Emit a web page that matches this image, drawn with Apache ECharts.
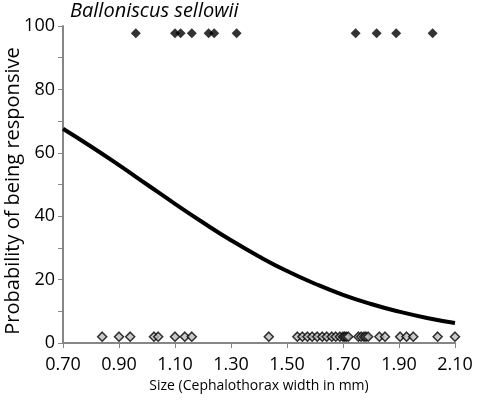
<!DOCTYPE html>
<html>
<head>
<meta charset="utf-8">
<script src="https://cdn.jsdelivr.net/npm/echarts@6/dist/echarts.min.js"></script>
<style>html,body{margin:0;padding:0;background:#fff}#c{width:484px;height:400px}</style>
</head>
<body>
<div id="c"></div>
<script>
// Responsive individuals (plotted at top)
var respSize = [0.96, 1.10, 1.12, 1.16, 1.22, 1.24, 1.32, 1.745, 1.82, 1.89, 2.02];
var respY = [97.7, 97.7, 97.7, 97.7, 97.7, 97.7, 97.7, 97.7, 97.7, 97.7, 97.7];
// Non-responsive individuals (plotted at bottom)
var nonSize = [0.84, 0.90, 0.94, 1.025, 1.04, 1.10, 1.135, 1.16, 1.435,
  1.537, 1.555, 1.573, 1.59, 1.608, 1.626, 1.642, 1.66, 1.674, 1.689, 1.70, 1.706, 1.712, 1.719,
  1.755, 1.765, 1.775, 1.782, 1.79, 1.83, 1.85, 1.904, 1.927, 1.951, 2.038, 2.10];
var nonY = [2, 2, 2, 2, 2, 2, 2, 2, 2, 2, 2, 2, 2, 2, 2, 2, 2, 2, 2, 2, 2, 2, 2, 2, 2, 2, 2, 2, 2, 2, 2, 2, 2, 2, 2];
// Fitted probability curve
var curveSize = [0.70, 0.80, 0.90, 1.00, 1.10, 1.20, 1.30, 1.40, 1.50, 1.60, 1.70, 1.80, 1.90, 2.00, 2.10];
var curveProb = [67.6, 62.0, 56.1, 50.0, 43.9, 38.0, 32.4, 27.3, 22.7, 18.7, 15.2, 12.3, 9.9, 7.9, 6.3];
var xTicks = [0.70, 0.90, 1.10, 1.30, 1.50, 1.70, 1.90, 2.10];
var yTicks = [0, 20, 40, 60, 80, 100];
var yName = 'Probability of being responsive';

var font = 'Open Sans';
var chart = echarts.init(document.getElementById('c'), null, {renderer: 'canvas'});
function zip(a, b){ return a.map(function(v, i){ return [v, b[i]]; }); }
chart.setOption({
  animation: false,
  title: {
    text: 'Balloniscus sellowii', left: 65, top: -4,
    textStyle: {fontFamily: font, fontStyle: 'italic', fontWeight: 'normal', fontSize: 20, color: '#000'}
  },
  graphic: [{
    type: 'text', x: 13, y: 191, rotation: Math.PI / 2,
    style: {text: yName, fontFamily: font, fontSize: 20, fill: '#000', align: 'center', verticalAlign: 'middle'}
  }],
  grid: {left: 63, right: 29, top: 26, bottom: 57, containLabel: false, outerBoundsMode: 'none'},
  xAxis: {
    type: 'value', min: 0.7, max: 2.1,
    name: 'Size (Cephalothorax width in mm)', nameLocation: 'middle', nameGap: 36,
    nameTextStyle: {fontFamily: font, fontSize: 14, color: '#000'},
    axisLine: {show: true, lineStyle: {color: '#868686', width: 2}},
    axisTick: {show: true, customValues: xTicks, length: 5, lineStyle: {color: '#868686', width: 1}},
    axisLabel: {customValues: xTicks, formatter: function(v){ return v.toFixed(2); },
      fontFamily: font, fontSize: 18, color: '#000', margin: 13},
    splitLine: {show: false}
  },
  yAxis: {
    type: 'value', min: 0, max: 100, interval: 20,
    axisLine: {show: true, lineStyle: {color: '#868686', width: 2}},
    axisTick: {show: true, length: 5, lineStyle: {color: '#868686', width: 1}},
    minorTick: {show: true, splitNumber: 2, length: 5, lineStyle: {color: '#868686', width: 1}},
    axisLabel: {fontFamily: font, fontSize: 18, color: '#000', margin: 8},
    splitLine: {show: false}
  },
  series: [
    {
      type: 'line', data: zip(curveSize, curveProb), smooth: true, symbol: 'none',
      lineStyle: {color: '#000', width: 4}, z: 3
    },
    {
      type: 'scatter', data: zip(respSize, respY), symbol: 'diamond', symbolSize: [10, 10],
      itemStyle: {color: '#000'}, z: 4
    },
    {
      type: 'scatter', data: zip(nonSize, nonY), symbol: 'diamond', symbolSize: [9, 9],
      itemStyle: {color: '#bdbdbd', borderColor: '#000', borderWidth: 1.5}, z: 4
    }
  ]
});
</script>
</body>
</html>
